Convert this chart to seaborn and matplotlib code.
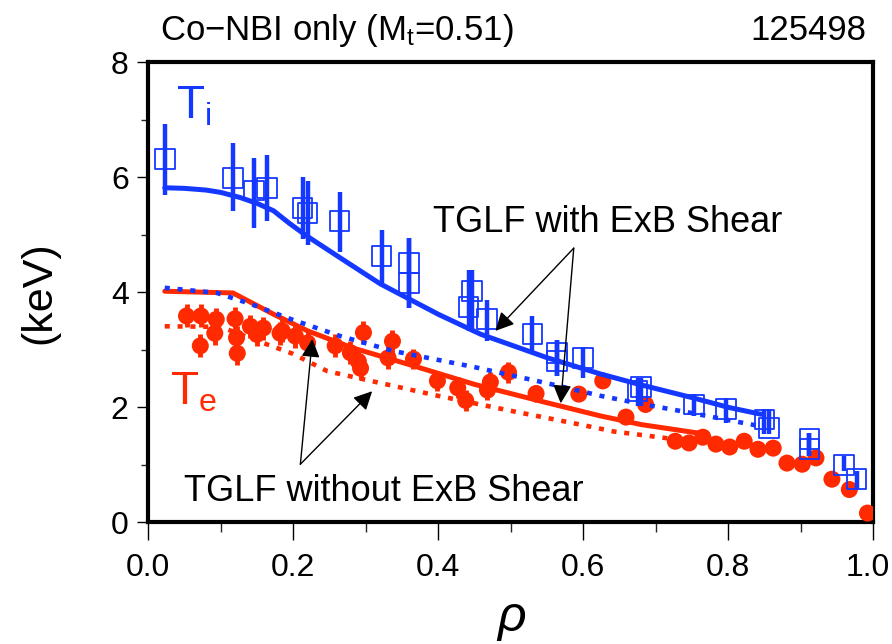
import matplotlib
matplotlib.use("Agg")
import matplotlib.pyplot as plt
import matplotlib.transforms as mtransforms
import seaborn as sns
import numpy as np
import pandas as pd
from matplotlib.ticker import MultipleLocator

# ---------------- data ----------------
ti_rho = [0.023, 0.117, 0.146, 0.164, 0.213, 0.220, 0.264, 0.322, 0.360, 0.360,
          0.447, 0.442, 0.467, 0.530, 0.564, 0.564, 0.600, 0.675, 0.680, 0.753,
          0.797, 0.850, 0.856, 0.912, 0.912, 0.960, 0.977]
ti_val = [6.32, 5.99, 5.77, 5.82, 5.47, 5.38, 5.24, 4.63, 4.51, 4.16,
          4.02, 3.75, 3.54, 3.28, 2.94, 2.81, 2.86, 2.28, 2.35, 2.05,
          1.97, 1.79, 1.64, 1.45, 1.28, 1.00, 0.75]
ti_lo = [5.70, 5.42, 5.12, 5.24, 4.93, 4.83, 4.70, 4.16, 3.73, 3.73,
         3.33, 3.33, 3.15, 2.98, 2.55, 2.55, 2.51, 2.02, 2.02, 1.85,
         1.73, 1.53, 1.53, 1.15, 1.15, 0.89, 0.58]
ti_hi = [6.93, 6.60, 6.34, 6.39, 6.01, 5.94, 5.75, 5.09, 4.95, 4.95,
         4.39, 4.39, 3.87, 3.59, 3.18, 3.18, 3.05, 2.51, 2.51, 2.23,
         2.17, 1.97, 1.97, 1.55, 1.55, 1.15, 0.89]

te_rho = [0.053, 0.073, 0.072, 0.094, 0.092, 0.120, 0.122, 0.123, 0.141, 0.150,
          0.159, 0.182, 0.185, 0.203, 0.220, 0.258, 0.279, 0.290, 0.293, 0.297,
          0.331, 0.337, 0.366, 0.399, 0.427, 0.438, 0.468, 0.472, 0.497, 0.535,
          0.594, 0.627, 0.659, 0.686, 0.727, 0.746, 0.765, 0.783, 0.802, 0.822,
          0.841, 0.862, 0.881, 0.902, 0.921, 0.943, 0.967, 0.992]
te_val = [3.59, 3.59, 3.07, 3.53, 3.29, 3.54, 3.21, 2.94, 3.41, 3.27,
          3.38, 3.29, 3.33, 3.24, 3.12, 3.07, 2.95, 2.80, 2.68, 3.30,
          2.86, 3.15, 2.84, 2.46, 2.34, 2.12, 2.30, 2.44, 2.61, 2.24,
          2.23, 2.46, 1.83, 2.05, 1.41, 1.38, 1.48, 1.36, 1.31, 1.41,
          1.27, 1.29, 1.03, 1.01, 1.12, 0.75, 0.57, 0.16]
te_err = [0.20, 0.20, 0.20, 0.20, 0.20, 0.20, 0.20, 0.20, 0.20, 0.20,
          0.20, 0.20, 0.20, 0.20, 0.20, 0.20, 0.20, 0.20, 0.20, 0.20,
          0.20, 0.20, 0.18, 0.18, 0.18, 0.18, 0.18, 0.18, 0.18, 0.15,
          0.12, 0.12, 0.12, 0.12, 0.10, 0.10, 0.10, 0.10, 0.10, 0.10,
          0.10, 0.10, 0.10, 0.10, 0.10, 0.08, 0.08, 0.08]

# TGLF with ExB shear (solid) and without (dotted)
ti_fit_rho = [0.023, 0.050, 0.080, 0.100, 0.127, 0.150, 0.173, 0.195, 0.219,
              0.265, 0.320, 0.400, 0.459, 0.551, 0.624, 0.680, 0.753, 0.800,
              0.845]
ti_fit = [5.82, 5.81, 5.78, 5.74, 5.65, 5.55, 5.42, 5.20, 4.98,
          4.60, 4.15, 3.62, 3.27, 2.86, 2.58, 2.39, 2.16, 2.00,
          1.88]
ti_nos_rho = [0.023, 0.095, 0.141, 0.200, 0.265, 0.338, 0.450, 0.550, 0.624,
              0.680, 0.750, 0.845]
ti_nos = [4.08, 3.99, 3.80, 3.52, 3.24, 2.98, 2.70, 2.42, 2.20,
          2.06, 1.90, 1.67]
te_fit_rho = [0.023, 0.117, 0.173, 0.220, 0.283, 0.348, 0.450, 0.550, 0.624,
              0.680, 0.760]
te_fit = [4.02, 3.99, 3.62, 3.33, 3.03, 2.79, 2.40, 2.08, 1.85, 1.70, 1.55]
te_nos_rho = [0.023, 0.100, 0.163, 0.200, 0.247, 0.307, 0.400, 0.500, 0.600,
              0.642, 0.717]
te_nos = [3.41, 3.40, 3.10, 2.93, 2.63, 2.46, 2.20, 1.94, 1.69, 1.58, 1.46]

x_ticks = [0.0, 0.2, 0.4, 0.6, 0.8, 1.0]
x_ticklabels = ["0.0", "0.2", "0.4", "0.6", "0.8", "1.0"]
y_ticks = [0, 2, 4, 6, 8]
y_ticklabels = ["0", "2", "4", "6", "8"]

BLUE = "#1438FF"
RED = "#FF2A00"

# ---------------- figure ----------------
sns.set_theme(style="white")
plt.rcParams["font.family"] = ["Liberation Sans", "DejaVu Sans"]
plt.rcParams["mathtext.fontset"] = "custom"
plt.rcParams["mathtext.rm"] = "Liberation Sans"
plt.rcParams["mathtext.it"] = "Liberation Sans:italic"
plt.rcParams["text.color"] = "black"
plt.rcParams["axes.labelcolor"] = "black"

fig = plt.figure(figsize=(8.92, 6.44), dpi=100)
ax = fig.add_axes([0.166, 0.189, 0.813, 0.714])

dotted = (0, (1.1, 1.7))

# Te model lines
sns.lineplot(x=te_nos_rho, y=te_nos, ax=ax, color=RED, lw=3.3,
             linestyle=dotted, zorder=2, sort=False)
sns.lineplot(x=te_fit_rho, y=te_fit, ax=ax, color=RED, lw=3.6, zorder=2.1,
             sort=False)

# Te data
ax.errorbar(te_rho, te_val, yerr=te_err, fmt="none", ecolor=RED,
            elinewidth=3.5, capsize=0, zorder=3)
te_df = pd.DataFrame({"rho": te_rho, "Te": te_val})
sns.scatterplot(data=te_df, x="rho", y="Te", ax=ax, color=RED, s=150,
                marker="o", edgecolor="none", zorder=3.1, legend=False)

# Ti model lines
sns.lineplot(x=ti_nos_rho, y=ti_nos, ax=ax, color=BLUE, lw=3.3,
             linestyle=dotted, zorder=4, sort=False)

# Ti data
ti_err = [np.subtract(ti_val, ti_lo), np.subtract(ti_hi, ti_val)]
ax.errorbar(ti_rho, ti_val, yerr=ti_err, fmt="none", ecolor=BLUE,
            elinewidth=3.2, capsize=0, zorder=5)
ti_df = pd.DataFrame({"rho": ti_rho, "Ti": ti_val})
sns.scatterplot(data=ti_df, x="rho", y="Ti", ax=ax, marker="s", s=200,
                facecolor="none", edgecolor=BLUE, linewidth=1.3,
                zorder=5.1, legend=False)

sns.lineplot(x=ti_fit_rho, y=ti_fit, ax=ax, color=BLUE, lw=3.6, zorder=6,
             sort=False)

# ---------------- axes ----------------
ax.set_xlim(0, 1.0)
ax.set_ylim(0, 8)
ax.set_xticks(x_ticks)
ax.set_xticklabels(x_ticklabels)
ax.set_yticks(y_ticks)
ax.set_yticklabels(y_ticklabels)
ax.xaxis.set_minor_locator(MultipleLocator(0.1))
ax.yaxis.set_minor_locator(MultipleLocator(1))
for s in ax.spines.values():
    s.set_linewidth(3.0)
    s.set_color("black")
    s.set_visible(True)
ax.tick_params(axis="x", which="major", direction="out", length=13, width=1,
               labelsize=23, pad=9, colors="black", bottom=True)
ax.tick_params(axis="x", which="minor", direction="out", length=7, width=1,
               bottom=True)
ax.tick_params(axis="y", which="major", direction="out", length=8, width=1,
               labelsize=23, pad=6, colors="black", left=True)
ax.tick_params(axis="y", which="minor", direction="out", length=5, width=1,
               left=True)
# last x label sits slightly left of its tick, as in the reference
last = ax.get_xticklabels()[-1]
last.set_transform(last.get_transform() +
                   mtransforms.ScaledTranslation(-6 / 100, 0, fig.dpi_scale_trans))

ax.set_xlabel(r"$\rho$", fontsize=36, labelpad=10)
ax.set_ylabel("(keV)", fontsize=31, labelpad=37)
ax.grid(False)

# labels
ax.text(0.063, 7.02, r"T$_\mathrm{i}$", color=BLUE, fontsize=33,
        ha="center", va="baseline")
ax.text(0.062, 2.05, r"T$_\mathrm{e}$", color=RED, fontsize=33,
        ha="center", va="baseline")

arrow_kw = dict(arrowstyle="-|>", color="black", lw=1.0, mutation_scale=28,
                shrinkA=0, shrinkB=0)
ax.text(0.634, 5.21, "TGLF with ExB Shear", fontsize=26, ha="center",
        va="center")
ax.annotate("", xy=(0.479, 3.33), xytext=(0.587, 4.77), arrowprops=arrow_kw,
            zorder=10)
ax.annotate("", xy=(0.569, 2.07), xytext=(0.587, 4.77), arrowprops=arrow_kw,
            zorder=10)
ax.text(0.325, 0.54, "TGLF without ExB Shear", fontsize=26, ha="center",
        va="center")
ax.annotate("", xy=(0.2265, 3.19), xytext=(0.210, 1.01), arrowprops=arrow_kw,
            zorder=10)
ax.annotate("", xy=(0.309, 2.28), xytext=(0.210, 1.01), arrowprops=arrow_kw,
            zorder=10)

fig.text(0.179, 0.938, r"Co$-$NBI only (M$_\mathrm{t}$=0.51)", fontsize=25,
         ha="left", va="baseline")
fig.text(0.971, 0.938, "125498", fontsize=25, ha="right", va="baseline")

fig.savefig("out.png", dpi=100)
